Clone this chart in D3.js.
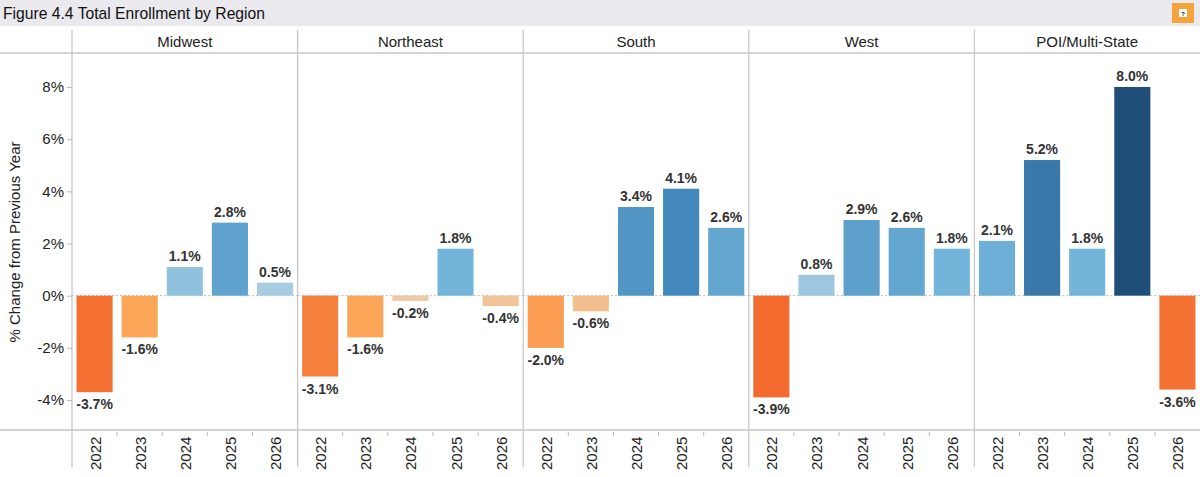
<!DOCTYPE html>
<html><head><meta charset="utf-8">
<script src="https://cdn.jsdelivr.net/npm/d3@7"></script>
<style>body{margin:0;background:#fff;font-family:Arial,"Liberation Sans",sans-serif}</style>
</head><body><svg id="c" width="1200" height="477"></svg>
<script>
var regions = ["Midwest", "Northeast", "South", "West", "POI/Multi-State"];
var years = ["2022", "2023", "2024", "2025", "2026"];
var midwest = [-3.7, -1.6, 1.1, 2.8, 0.5];
var northeast = [-3.1, -1.6, -0.2, 1.8, -0.4];
var south = [-2.0, -0.6, 3.4, 4.1, 2.6];
var west = [-3.9, 0.8, 2.9, 2.6, 1.8];
var poi = [2.1, 5.2, 1.8, 8.0, -3.6];
var values = [midwest, northeast, south, west, poi];
var yTicks = [-4, -2, 0, 2, 4, 6, 8];

var svg = d3.select("#c");
svg.append("rect").attr("width", 1200).attr("height", 26).attr("fill", "#e9e9ee");
svg.append("text").text("Figure 4.4 Total Enrollment by Region").attr("x", 3).attr("y", 19)
  .attr("font-size", 17).attr("fill", "#111").attr("textLength", 262).attr("lengthAdjust", "spacingAndGlyphs");
svg.append("rect").attr("x", 1172).attr("y", 3).attr("width", 22).attr("height", 20).attr("fill", "#f7a23b");
svg.append("rect").attr("x", 1179).attr("y", 9).attr("width", 8).attr("height", 8).attr("fill", "#fff");
svg.append("text").text("?").attr("x", 1183).attr("y", 16).attr("font-size", 6).attr("text-anchor", "middle").attr("font-weight", "bold");

var x0 = d3.scaleBand().domain(regions).range([72, 1200]);
var x1 = d3.scaleBand().domain(years).range([0, x0.bandwidth()]).paddingInner(0.2).paddingOuter(0.1);
var y = d3.scaleLinear().domain([-4, 8]).range([400, 87]);
var color = d3.scaleLinear().domain([-3.9, -1.6, -0.2, 0.5, 1.8, 4.1, 8])
  .range(["#f26a2e", "#fca65a", "#f0c9a3", "#a9cde0", "#73b5da", "#4489bd", "#1f4e79"]);

// header + grid lines
svg.append("line").attr("x1", 0).attr("x2", 1200).attr("y1", 53).attr("y2", 53).attr("stroke", "#aaa");
svg.append("line").attr("x1", 0).attr("x2", 1200).attr("y1", 430).attr("y2", 430).attr("stroke", "#aaa");
regions.forEach(function(r, i) {
  var px = x0(r);
  svg.append("line").attr("x1", px).attr("x2", px).attr("y1", 30).attr("y2", 467).attr("stroke", "#c8c8c8").attr("stroke-width", 1.3);
  svg.append("text").text(r).attr("x", px + x0.bandwidth() / 2).attr("y", 47).attr("text-anchor", "middle").attr("font-size", 15).attr("fill", "#222");
  svg.append("line").attr("x1", px).attr("x2", px + x0.bandwidth()).attr("y1", y(0)).attr("y2", y(0))
    .attr("stroke", "#bbb").attr("stroke-dasharray", "2,2");
  var g = svg.append("g").attr("transform", "translate(" + px + ",0)");
  g.selectAll("rect").data(values[i]).enter().append("rect")
    .attr("x", function(d, j) { return x1(years[j]); })
    .attr("width", x1.bandwidth())
    .attr("y", function(d) { return y(Math.max(0, d)); })
    .attr("height", function(d) { return Math.abs(y(d) - y(0)); })
    .attr("fill", function(d) { return color(d); });
  g.selectAll("text.lab").data(values[i]).enter().append("text").attr("class", "lab")
    .attr("x", function(d, j) { return x1(years[j]) + x1.bandwidth() / 2; })
    .attr("y", function(d) { return d >= 0 ? y(d) - 6 : y(d) + 17; })
    .attr("text-anchor", "middle").attr("font-size", 14).attr("font-weight", "bold").attr("fill", "#333")
    .text(function(d) { return d.toFixed(1) + "%"; });
  years.forEach(function(yr, j) {
    var cx = px + x1(yr) + x1.bandwidth() / 2;
    g.append("text").text(yr).attr("transform", "translate(" + (x1(yr) + x1.bandwidth() / 2 + 6) + ",470) rotate(-90)")
      .attr("font-size", 15).attr("fill", "#222");
    if (j > 0) g.append("line").attr("x1", x1(yr) - x1.step() * 0.1).attr("x2", x1(yr) - x1.step() * 0.1).attr("y1", 432).attr("y2", 436).attr("stroke", "#bbb");
  });
});

var ya = svg.append("g").attr("transform", "translate(72,0)")
  .call(d3.axisLeft(y).tickValues(yTicks).tickSize(5).tickFormat(function(d) { return d + "%"; }));
ya.select(".domain").remove();
ya.selectAll("line").attr("stroke", "#bbb");
ya.selectAll("text").attr("font-size", 15).attr("fill", "#222").attr("font-family", "Arial,'Liberation Sans',sans-serif");
svg.append("text").text("% Change from Previous Year").attr("transform", "translate(20,242) rotate(-90)")
  .attr("text-anchor", "middle").attr("font-size", 15).attr("fill", "#222");
</script></body></html>
